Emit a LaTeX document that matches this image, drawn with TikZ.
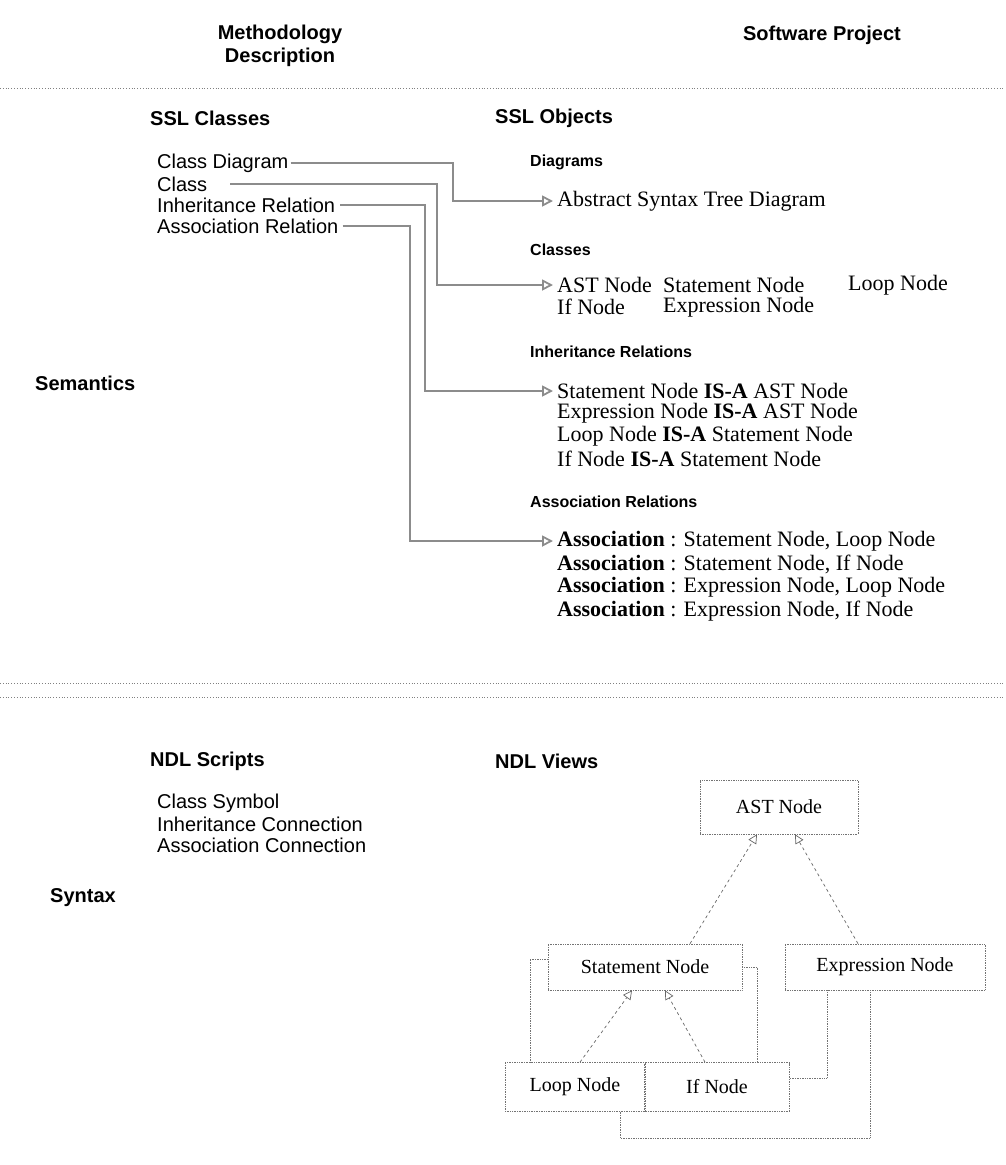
\documentclass[tikz,border=0pt]{standalone}
\usepackage{fontspec}
\setmainfont{Liberation Serif}
\setsansfont{Liberation Sans}
\usetikzlibrary{arrows.meta}

\tikzset{
  hdr/.style={font=\sffamily\bfseries\fontsize{20}{23}\selectfont, inner sep=0},
  sub/.style={font=\sffamily\bfseries\fontsize{16}{18}\selectfont, anchor=west, inner sep=0},
  item/.style={font=\sffamily\fontsize{20}{22}\selectfont, anchor=west, inner sep=0},
  obj/.style={font=\fontsize{22}{24}\selectfont, anchor=west, inner sep=0},
  conn/.style={draw=black!45, line width=1.8pt, -{Triangle[open,length=11pt,width=11pt]}},
  sep/.style={draw=black!50, line width=0.8pt, dotted},
  cls/.style={draw=black!55, densely dotted, line width=0.7pt,
              font=\fontsize{20}{22}\selectfont, inner sep=0},
  isa/.style={draw=black!60, dashed, line width=0.7pt,
              -{Triangle[open,length=9pt,width=9pt]}},
  assoc/.style={draw=black!55, densely dotted, line width=0.7pt},
}

\begin{document}
\begin{tikzpicture}[x=1pt,y=-1pt]
\useasboundingbox (0,0) rectangle (1005,1165);

% column titles
\node[hdr, align=center] (meth) at (280,46) {Methodology\\Description};
\node[hdr] (proj) at (822,35) {Software Project};

% separators between the rows
\draw[sep] (0,88) -- (1005,88);
\draw[sep] (0,683) -- (1005,683);
\draw[sep] (0,697) -- (1005,697);

% ---------- semantics row ----------
\node[hdr, anchor=west] (sem) at (35,383) {Semantics};
\node[hdr, anchor=west] (sslc) at (150,118) {SSL Classes};
\node[hdr, anchor=west] (sslo) at (495,118) {SSL Objects};

\node[item] (cd) at (157,163) {Class Diagram};
\node[item] (cl) at (157,184) {Class};
\node[item] (ir) at (157,205) {Inheritance Relation};
\node[item] (ar) at (157,226) {Association Relation};

\node[sub] (hdiag) at (530,162) {Diagrams};
\node[obj] (abs) at (557,201) {Abstract Syntax Tree Diagram};

\node[sub] (hcls) at (530,250) {Classes};
\node[obj] (oast)  at (557,285) {AST Node};
\node[obj] (ostmt) at (663,285) {Statement Node};
\node[obj] (oloop) at (848,285) {Loop Node};
\node[obj] (oif)   at (557,307) {If Node};
\node[obj] (oexpr) at (663,307) {Expression Node};

\node[sub] (hinh) at (530,352) {Inheritance Relations};
\node[obj] (i1) at (557,391) {Statement Node \textbf{IS-A} AST Node};
\node[obj] (i2) at (557,413) {Expression Node \textbf{IS-A} AST Node};
\node[obj] (i3) at (557,436) {Loop Node \textbf{IS-A} Statement Node};
\node[obj] (i4) at (557,459) {If Node \textbf{IS-A} Statement Node};

\node[sub] (hass) at (530,502) {Association Relations};
\node[obj] (a1) at (557,541) {\textbf{Association} : Statement Node, Loop Node};
\node[obj] (a2) at (557,564) {\textbf{Association} : Statement Node, If Node};
\node[obj] (a3) at (557,587) {\textbf{Association} : Expression Node, Loop Node};
\node[obj] (a4) at (557,611) {\textbf{Association} : Expression Node, If Node};

% class-to-object links
\coordinate (v1) at (453,0);
\coordinate (v2) at (437,0);
\coordinate (v3) at (425,0);
\coordinate (v4) at (410,0);
\draw[conn] ([xshift=2pt]cd.east) -- (cd.east -| v1) -- (abs.west -| v1) -- ([xshift=-4pt]abs.west);
\draw[conn] ([xshift=23pt]cl.east) -- (cl.east -| v2) -- (oast.west -| v2) -- ([xshift=-4pt]oast.west);
\draw[conn] ([xshift=5pt]ir.east) -- (ir.east -| v3) -- (i1.west -| v3) -- ([xshift=-4pt]i1.west);
\draw[conn] ([xshift=4pt]ar.east) -- (ar.east -| v4) -- (a1.west -| v4) -- ([xshift=-4pt]a1.west);

% ---------- syntax row ----------
\node[hdr, anchor=west] (syn) at (50,898) {Syntax};
\node[hdr, anchor=west] (ndls) at (150,761) {NDL Scripts};
\node[hdr, anchor=west] (ndlv) at (495,761) {NDL Views};

\node[item] (cs) at (157,803) {Class Symbol};
\node[item] (ic) at (157,824) {Inheritance Connection};
\node[item] (ac) at (157,845) {Association Connection};

% class symbols
\node[cls, minimum width=158pt, minimum height=54pt] (vast)  at (779,807)  {AST Node};
\node[cls, minimum width=194pt, minimum height=46pt] (vstmt) at (645,967)  {Statement Node};
\node[cls, minimum width=200pt, minimum height=46pt] (vexpr) at (885,967)  {Expression Node};
\node[cls, minimum width=140pt, minimum height=49pt] (vloop) at (575,1087) {Loop Node};
\node[cls, minimum width=145pt, minimum height=49pt] (vif)   at (717,1087) {If Node};

% inheritance connections
\draw[isa] ([xshift=45pt]vstmt.north) -- ([xshift=-22pt]vast.south);
\draw[isa] ([xshift=-27pt]vexpr.north) -- ([xshift=16pt]vast.south);
\draw[isa] ([xshift=5pt]vloop.north) -- ([xshift=-13pt]vstmt.south);
\draw[isa] ([xshift=-12pt]vif.north) -- ([xshift=20pt]vstmt.south);

% association connections
\coordinate (w1) at (530,0);
\coordinate (w2) at (757,0);
\coordinate (w3) at (827,0);
\coordinate (w4) at (870,0);
\coordinate (w5) at (620,0);
\coordinate (h1) at (0,1078);
\coordinate (h2) at (0,1138);
\draw[assoc] ([yshift=8pt]vstmt.west) -- ([yshift=8pt]vstmt.west -| w1) -- (vloop.north -| w1);
\draw[assoc] (vstmt.east) -- (vstmt.east -| w2) -- (vif.north -| w2);
\draw[assoc] (vexpr.south -| w3) -- (h1 -| w3) -- (h1 -| vif.east);
\draw[assoc] (vexpr.south -| w4) -- (h2 -| w4) -- (h2 -| w5) -- (vloop.south -| w5);
\end{tikzpicture}
\end{document}
